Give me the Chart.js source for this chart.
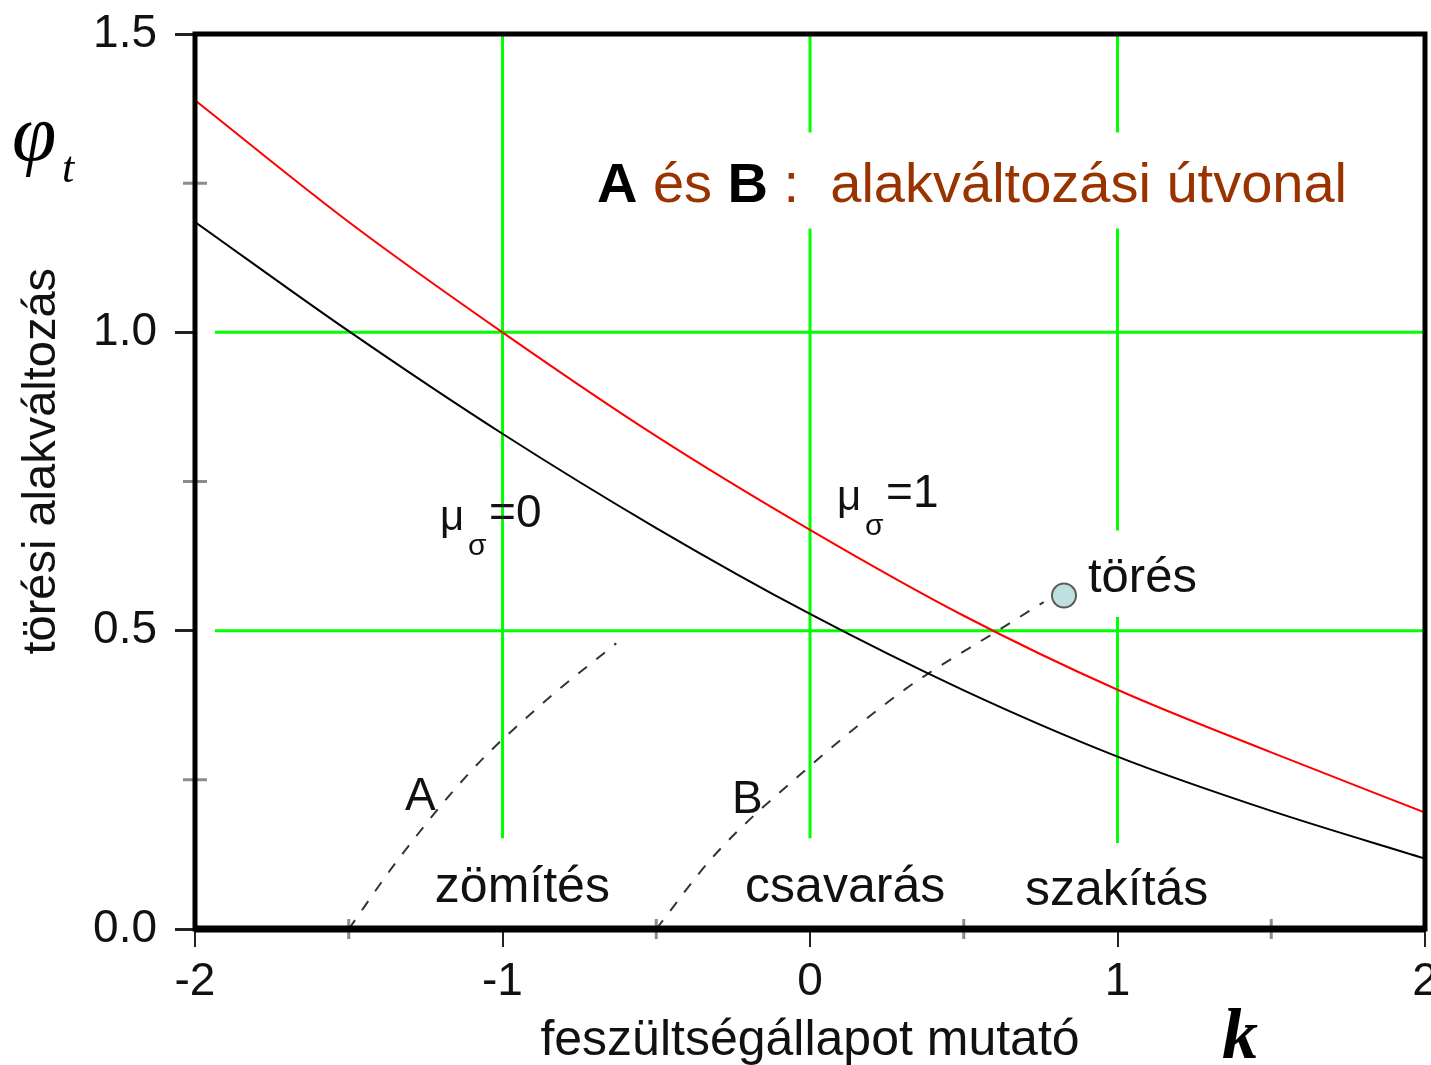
<!DOCTYPE html>
<html lang="hu">
<head>
<meta charset="UTF-8">
<title>Törési alakváltozás</title>
<script src="https://cdn.jsdelivr.net/npm/chart.js"></script>
<style>
    html, body { margin: 0; padding: 0; background: #fff; }
    #wrap { width: 1431px; height: 1065px; }
</style>
</head>
<body>
<div id="wrap"><canvas id="chart" width="1431" height="1065"></canvas></div>
<script>
const kValues = [-2, -1.5, -1, -0.5, 0, 0.5, 1, 1.5, 2];
// fracture strain, mu_sigma = 1 (red) and mu_sigma = 0 (black)
const phiMu1 = [1.389, 1.185, 1.0, 0.826, 0.669, 0.525, 0.401, 0.296, 0.195];
const phiMu0 = [1.185, 1.002, 0.830, 0.672, 0.528, 0.400, 0.289, 0.198, 0.118];
// deformation paths A and B
const pathAK = [-1.5, -1.34, -1.1, -0.87, -0.63];
const pathAPhi = [0, 0.116, 0.266, 0.378, 0.479];
const pathBK = [-0.5, -0.31, 0.0, 0.31, 0.62, 0.76];
const pathBPhi = [0, 0.124, 0.273, 0.402, 0.503, 0.548];
// fracture point at the end of path B
const fractureK = [0.826];
const fracturePhi = [0.559];
// axis ticks
const xTicks = [-2, -1, 0, 1, 2];
const xTickLabels = ['-2', '-1', '0', '1', '2'];
const yTicks = [0, 0.5, 1.0, 1.5];
const yTickLabels = ['0.0', '0.5', '1.0', '1.5'];
const xMinorTicks = [-1.5, -0.5, 0.5, 1.5];
const yMinorTicks = [0.25, 0.75, 1.25];

const SANS = '"Liberation Sans", Arial, sans-serif';
const SERIF = '"Liberation Serif", "Times New Roman", serif';

const toPoints = (xs, ys) => xs.map((v, i) => ({ x: v, y: ys[i] }));

// green grid, broken where the labels sit
const greenGrid = {
    id: 'greenGrid',
    beforeDatasetsDraw(chart) {
        const { ctx, scales: { x, y } } = chart;
        const vertical = [
            { k: -1, parts: [[0.152, 1.5]] },
            { k: 0, parts: [[1.335, 1.5], [0.152, 1.174]] },
            { k: 1, parts: [[1.335, 1.5], [0.668, 1.174], [0.144, 0.523]] }
        ];
        const horizontal = [1.0, 0.5];
        ctx.save();
        ctx.strokeStyle = '#00ff00';
        ctx.lineWidth = 3;
        ctx.beginPath();
        vertical.forEach(v => {
            const px = x.getPixelForValue(v.k);
            v.parts.forEach(p => {
                ctx.moveTo(px, y.getPixelForValue(p[0]));
                ctx.lineTo(px, y.getPixelForValue(p[1]));
            });
        });
        horizontal.forEach(h => {
            const py = y.getPixelForValue(h);
            ctx.moveTo(x.getPixelForValue(-1.935), py);
            ctx.lineTo(x.getPixelForValue(2), py);
        });
        ctx.stroke();
        ctx.restore();
    }
};

// frame, minor ticks and all the text
const decorations = {
    id: 'decorations',
    afterDraw(chart) {
        const { ctx, chartArea: a, scales: { x, y } } = chart;
        ctx.save();

        // minor ticks (grey, crossing the axis)
        ctx.strokeStyle = '#8c8c8c';
        ctx.lineWidth = 3;
        ctx.beginPath();
        xMinorTicks.forEach(v => {
            const px = x.getPixelForValue(v);
            ctx.moveTo(px, a.bottom - 10);
            ctx.lineTo(px, a.bottom + 10);
        });
        yMinorTicks.forEach(v => {
            const py = y.getPixelForValue(v);
            ctx.moveTo(a.left - 12, py);
            ctx.lineTo(a.left + 12, py);
        });
        ctx.stroke();

        // frame
        ctx.strokeStyle = '#000';
        ctx.lineWidth = 5;
        ctx.strokeRect(a.left, a.top, a.right - a.left, a.bottom - a.top);
        ctx.lineWidth = 7;
        ctx.beginPath();
        ctx.moveTo(a.left, a.bottom);
        ctx.lineTo(a.right, a.bottom);
        ctx.stroke();

        const text = (str, px, py, font, color, align) => {
            ctx.font = font;
            ctx.fillStyle = color || '#111';
            ctx.textAlign = align || 'left';
            ctx.textBaseline = 'alphabetic';
            ctx.fillText(str, px, py);
            return ctx.measureText(str).width;
        };
        const at = (k, phi) => [x.getPixelForValue(k), y.getPixelForValue(phi)];

        // x tick labels (drawn here so the last one may run off the canvas)
        xTicks.forEach((v, i) => {
            text(xTickLabels[i], x.getPixelForValue(v), a.bottom + 66, '46px ' + SANS, '#111', 'center');
        });

        // annotation: "A és B :  alakváltozási útvonal"
        const brown = '#993300';
        let [ax, ay] = at(-0.693, 1.218);
        const parts = [
            ['A', 'bold 56px ' + SANS, '#000'],
            [' és ', '56px ' + SANS, brown],
            ['B', 'bold 56px ' + SANS, '#000'],
            [' :  alakváltozási útvonal', '56px ' + SANS, brown]
        ];
        parts.forEach(p => { ax += text(p[0], ax, ay, p[1], p[2]); });

        // mu_sigma labels
        const muLabel = (k, phi, rhs) => {
            const [mx, my] = at(k, phi);
            text('\u03bc', mx, my, '42px ' + SANS);
            text('\u03c3', mx + 28, my + 25, '30px ' + SANS);
            text(rhs, mx + 49, my - 3, '46px ' + SANS);
        };
        muLabel(-1.203, 0.668, '=0');
        muLabel(0.088, 0.702, '=1');

        let p;
        p = at(0.904, 0.564); text('törés', p[0], p[1], '49px ' + SANS);
        p = at(-1.317, 0.199); text('A', p[0], p[1], '46px ' + SANS);
        p = at(-0.254, 0.194); text('B', p[0], p[1], '46px ' + SANS);
        p = at(-1.220, 0.045); text('zömítés', p[0], p[1], '50px ' + SANS);
        p = at(-0.211, 0.045); text('csavarás', p[0], p[1], '50px ' + SANS);
        p = at(0.699, 0.040); text('szakítás', p[0], p[1], '50px ' + SANS);

        // axis titles
        text('feszültségállapot mutató', x.getPixelForValue(0), 1055, '50px ' + SANS, '#111', 'center');
        text('k', x.getPixelForValue(1.34), 1058, 'italic bold 72px ' + SERIF, '#000');

        ctx.save();
        ctx.translate(55, y.getPixelForValue(0.784));
        ctx.rotate(-Math.PI / 2);
        text('törési alakváltozás', 0, 0, '47px ' + SANS, '#111', 'center');
        ctx.restore();

        text('\u03c6', 12, 160, 'italic 80px ' + SERIF, '#000');
        text('t', 62, 182, 'italic 44px ' + SERIF, '#000');

        ctx.restore();
    }
};

const ctx = document.getElementById('chart').getContext('2d');
new Chart(ctx, {
    type: 'scatter',
    data: {
        datasets: [
            {
                label: 'mu=1',
                data: toPoints(kValues, phiMu1),
                showLine: true,
                borderColor: '#ff0000',
                borderWidth: 2,
                pointRadius: 0,
                cubicInterpolationMode: 'monotone'
            },
            {
                label: 'mu=0',
                data: toPoints(kValues, phiMu0),
                showLine: true,
                borderColor: '#000000',
                borderWidth: 2,
                pointRadius: 0,
                cubicInterpolationMode: 'monotone'
            },
            {
                label: 'A',
                data: toPoints(pathAK, pathAPhi),
                showLine: true,
                borderColor: '#333333',
                borderWidth: 2,
                borderDash: [11, 12],
                pointRadius: 0,
                cubicInterpolationMode: 'monotone'
            },
            {
                label: 'B',
                data: toPoints(pathBK, pathBPhi),
                showLine: true,
                borderColor: '#333333',
                borderWidth: 2,
                borderDash: [11, 12],
                pointRadius: 0,
                cubicInterpolationMode: 'monotone'
            },
            {
                label: 'törés',
                data: toPoints(fractureK, fracturePhi),
                showLine: false,
                pointRadius: 12,
                backgroundColor: '#bfe0e0',
                borderColor: '#5a5a5a',
                borderWidth: 2
            }
        ]
    },
    options: {
        responsive: false,
        animation: false,
        devicePixelRatio: 1,
        layout: { autoPadding: false, padding: { top: 34, right: 6, left: 0, bottom: 0 } },
        plugins: {
            legend: { display: false },
            tooltip: { enabled: false }
        },
        scales: {
            x: {
                type: 'linear',
                min: -2,
                max: 2,
                afterBuildTicks: s => { s.ticks = xTicks.map(v => ({ value: v })); },
                afterFit: s => { s.height = 136; s.paddingLeft = 0; s.paddingRight = 0; },
                border: { display: false },
                grid: { drawOnChartArea: false, drawTicks: true, tickLength: 18, color: '#222', lineWidth: 2 },
                ticks: { display: false }
            },
            y: {
                type: 'linear',
                min: 0,
                max: 1.5,
                afterBuildTicks: s => { s.ticks = yTicks.map(v => ({ value: v })); },
                afterFit: s => { s.width = 195; s.paddingTop = 0; s.paddingBottom = 0; },
                border: { display: false },
                grid: { drawOnChartArea: false, drawTicks: true, tickLength: 20, color: '#222', lineWidth: 3 },
                ticks: {
                    padding: 18,
                    color: '#111',
                    font: { family: SANS, size: 46 },
                    callback: v => yTickLabels[yTicks.indexOf(v)]
                }
            }
        }
    },
    plugins: [greenGrid, decorations]
});
</script>
</body>
</html>
